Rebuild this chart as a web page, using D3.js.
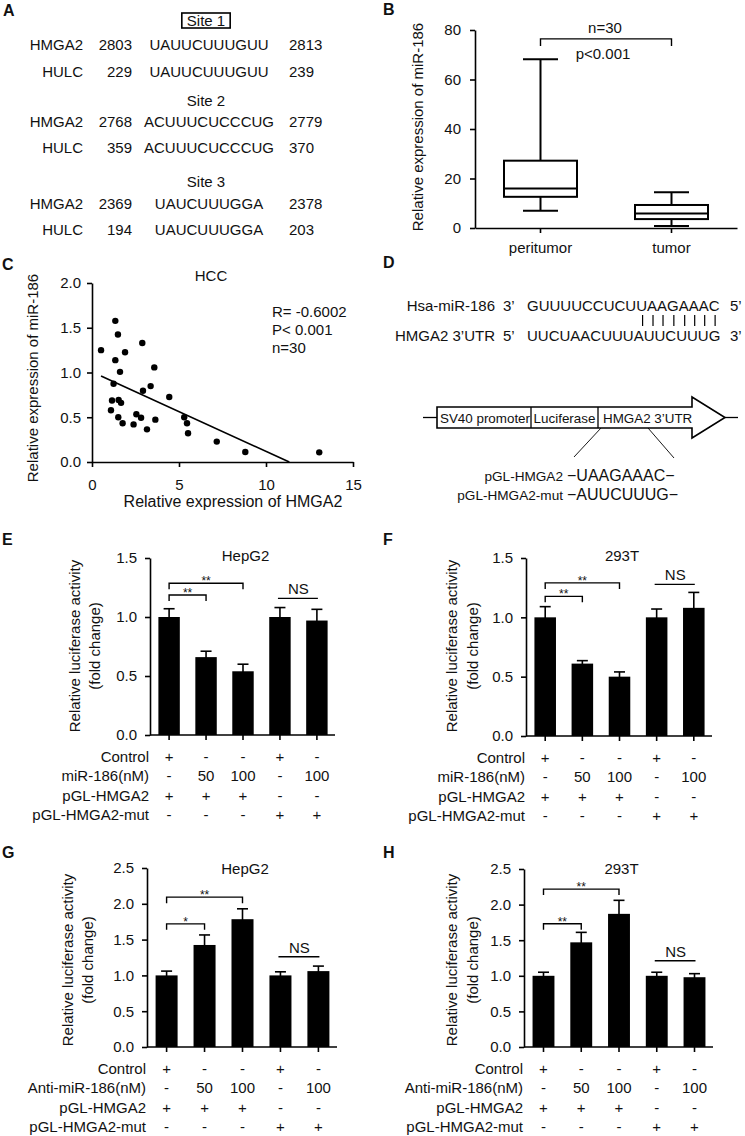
<!DOCTYPE html>
<html><head><meta charset="utf-8">
<script src="https://cdn.jsdelivr.net/npm/d3@7"></script>
<style>
body{margin:0;background:#fff;}
svg text{font-family:"Liberation Sans",Arial,Helvetica,sans-serif;fill:#111;}
</style></head><body>
<svg id="fig" width="745" height="1136" xmlns="http://www.w3.org/2000/svg"></svg>
<script>
// ================= DATA =================
// Panel A: sequence sites
const siteNames = ["Site 1", "Site 2", "Site 3"];
const siteGenes = ["HMGA2", "HULC"];
const siteStart = [[2803, 229], [2768, 359], [2369, 194]];
const siteSeq = [["UAUUCUUUGUU", "UAUUCUUUGUU"], ["ACUUUCUCCCUG", "ACUUUCUCCCUG"], ["UAUCUUUGGA", "UAUCUUUGGA"]];
const siteEnd = [[2813, 239], [2779, 370], [2378, 203]];

// Panel B: box plot
const boxCategories = ["peritumor", "tumor"];
const boxMin = [7.0, 0.8];
const boxQ1 = [12.6, 3.6];
const boxMedian = [16.0, 5.9];
const boxQ3 = [27.2, 9.3];
const boxMax = [68.2, 14.4];
const boxYTicks = [0, 20, 40, 60, 80];
const boxNote = ["n=30", "p<0.001"];

// Panel C: scatter
const hmga2Expr = [1.34, 1.49, 0.52, 2.89, 1.90, 1.34, 1.61, 3.58, 1.24, 2.93, 3.37, 4.44, 1.15, 1.53, 1.67, 1.09, 1.51, 1.76, 2.55, 2.82, 2.39, 3.64, 3.16, 5.30, 5.46, 5.52, 7.17, 8.81, 13.06];
const mir186Expr = [1.577, 1.424, 1.25, 1.33, 1.227, 1.138, 1.007, 1.057, 0.874, 0.796, 0.848, 0.727, 0.687, 0.694, 0.661, 0.578, 0.50, 0.433, 0.534, 0.494, 0.42, 0.473, 0.365, 0.50, 0.433, 0.321, 0.228, 0.112, 0.108];
const fitSlope = -0.0889, fitIntercept = 1.008, fitRange = [0.52, 11.34];
const scatterXTicks = [0, 5, 10, 15];
const scatterYTicks = [0, 0.5, 1.0, 1.5, 2.0];
const scatterStats = ["R= -0.6002", "P< 0.001", "n=30"];

// Panel D: duplex and construct
const duplexNames = ["Hsa-miR-186", "HMGA2 3\u2019UTR"];
const duplexEnds = [["3\u2019", "5\u2019"], ["5\u2019", "3\u2019"]];
const duplexSeqs = ["GUUUUCCUCUUAAGAAAC", "UUCUAACUUUAUUCUUUG"];
const seedLength = 8;
const constructParts = ["SV40 promoter", "Luciferase", "HMGA2 3\u2019UTR"];
const constructNames = ["pGL-HMGA2", "pGL-HMGA2-mut"];
const constructSeqs = ["UAAGAAAC", "AUUCUUUG"];

// Panels E-H: luciferase assays
const barTicks15 = [0, 0.5, 1.0, 1.5];
const barTicks25 = [0, 0.5, 1.0, 1.5, 2.0, 2.5];
const rowLabelsMiR = ["Control", "miR-186(nM)", "pGL-HMGA2", "pGL-HMGA2-mut"];
const rowLabelsAnti = ["Control", "Anti-miR-186(nM)", "pGL-HMGA2", "pGL-HMGA2-mut"];
const rowValues = [["+", "-", "-", "+", "-"], ["-", "50", "100", "-", "100"], ["+", "+", "+", "-", "-"], ["-", "-", "-", "+", "+"]];
const eMean = [1.00, 0.66, 0.54, 1.00, 0.97];
const eSem  = [0.07, 0.05, 0.06, 0.08, 0.095];
const fMean = [1.00, 0.61, 0.50, 1.00, 1.08];
const fSem  = [0.09, 0.025, 0.04, 0.07, 0.13];
const gMean = [1.00, 1.425, 1.785, 1.00, 1.06];
const gSem  = [0.06, 0.14, 0.145, 0.05, 0.07];
const hMean = [1.00, 1.47, 1.87, 1.00, 0.98];
const hSem  = [0.05, 0.14, 0.19, 0.05, 0.05];
// significance: [barA, barB, level, label]
const eSig = [[0, 2, 1.286, "**"], [0, 1, 1.186, "**"], [3, 4, 1.158, "NS"]];
const fSig = [[0, 2, 1.29, "**"], [0, 1, 1.177, "**"], [3, 4, 1.278, "NS"]];
const gSig = [[0, 2, 2.093, "**"], [0, 1, 1.72, "*"], [3, 4, 1.26, "NS"]];
const hSig = [[0, 2, 2.218, "**"], [0, 1, 1.73, "**"], [3, 4, 1.212, "NS"]];

// ================= DRAWING =================
const svg = d3.select("#fig");
const FONT = "Liberation Sans, Arial, Helvetica, sans-serif";

function txt(g, x, y, s, o = {}) {
  const t = g.append("text").attr("x", x).attr("y", y).text(s)
    .attr("font-size", o.size || 15)
    .attr("text-anchor", o.anchor || "start");
  if (o.weight) t.attr("font-weight", o.weight);
  return t;
}
function styleAxis(sel, size) {
  sel.attr("font-family", FONT).attr("font-size", size || 15);
  sel.selectAll("path,line").attr("stroke", "#000").attr("stroke-width", 1.6);
  sel.selectAll("text").attr("fill", "#111");
}
function vlabel(g, x, y, s, size) {
  g.append("text").attr("transform", `translate(${x},${y}) rotate(-90)`)
    .attr("text-anchor", "middle").attr("dy", "0.35em")
    .attr("font-size", size || 15).text(s);
}

// Panel letters
[["A", 3, 16], ["B", 383, 15], ["C", 2, 270], ["D", 383, 268], ["E", 2, 545], ["F", 383, 545], ["G", 2, 858], ["H", 383, 858]]
  .forEach(([l, x, y]) => txt(svg, x, y, l, { size: 16, weight: "bold" }));

// ---------- Panel A ----------
(function () {
  const g = svg.append("g");
  const rowBase = [[50, 77], [127, 153], [209, 235]];
  const siteBase = [26, 106, 187];
  siteNames.forEach((s, i) => {
    const t = txt(g, 206, siteBase[i], s, { anchor: "middle" });
    if (i === 0) {
      const bb = t.node().getBBox();
      g.append("rect").attr("x", bb.x - 5).attr("y", siteBase[i] - 13)
        .attr("width", bb.width + 10).attr("height", 15)
        .attr("fill", "none").attr("stroke", "#000").attr("stroke-width", 1.6);
    }
    siteGenes.forEach((gn, j) => {
      const y = rowBase[i][j];
      txt(g, 83, y, gn, { anchor: "end" });
      txt(g, 132, y, siteStart[i][j], { anchor: "end" });
      txt(g, 209, y, siteSeq[i][j], { anchor: "middle" });
      txt(g, 289, y, siteEnd[i][j]);
    });
  });
})();

// ---------- Panel B ----------
(function () {
  const g = svg.append("g");
  const x = d3.scaleBand().domain(boxCategories).range([475, 737]);
  const y = d3.scaleLinear().domain([0, 80]).range([228, 30]);
  g.append("g").attr("transform", "translate(475,0)")
    .call(d3.axisLeft(y).tickValues(boxYTicks).tickSize(5).tickPadding(9).tickSizeOuter(0))
    .call(s => styleAxis(s));
  g.append("g").attr("transform", "translate(0,228)")
    .call(d3.axisBottom(x).tickSize(5).tickPadding(9).tickSizeOuter(0))
    .call(s => styleAxis(s));
  const bw = 73, cw = 35;
  boxCategories.forEach((c, i) => {
    const cx = x(c) + x.bandwidth() / 2;
    const ln = (x1, y1, x2, y2) => g.append("line").attr("x1", x1).attr("y1", y1).attr("x2", x2).attr("y2", y2)
      .attr("stroke", "#000").attr("stroke-width", 2);
    ln(cx, y(boxQ3[i]), cx, y(boxMax[i]));
    ln(cx, y(boxQ1[i]), cx, y(boxMin[i]));
    ln(cx - cw / 2, y(boxMax[i]), cx + cw / 2, y(boxMax[i]));
    ln(cx - cw / 2, y(boxMin[i]), cx + cw / 2, y(boxMin[i]));
    g.append("rect").attr("x", cx - bw / 2).attr("y", y(boxQ3[i]))
      .attr("width", bw).attr("height", y(boxQ1[i]) - y(boxQ3[i]))
      .attr("fill", "#fff").attr("stroke", "#000").attr("stroke-width", 2);
    ln(cx - bw / 2, y(boxMedian[i]), cx + bw / 2, y(boxMedian[i]));
  });
  const x1 = x(boxCategories[0]) + x.bandwidth() / 2, x2 = x(boxCategories[1]) + x.bandwidth() / 2;
  const by = y(76.4);
  g.append("path").attr("d", `M${x1},${by + 7}V${by}H${x2}V${by + 7}`)
    .attr("fill", "none").attr("stroke", "#000").attr("stroke-width", 1.4);
  txt(g, (x1 + x2) / 2 - 1, by - 6, boxNote[0], { anchor: "middle" });
  txt(g, (x1 + x2) / 2 - 3, by + 20, boxNote[1], { anchor: "middle" });
  vlabel(g, 418, 127, "Relative expression of miR-186");
})();

// ---------- Panel C ----------
(function () {
  const g = svg.append("g");
  const x = d3.scaleLinear().domain([0, 15]).range([92, 353]);
  const y = d3.scaleLinear().domain([0, 2]).range([462, 283]);
  g.append("g").attr("transform", "translate(92,0)")
    .call(d3.axisLeft(y).tickValues(scatterYTicks).tickFormat(d3.format(".1f")).tickSize(5).tickPadding(6).tickSizeOuter(0))
    .call(s => styleAxis(s));
  g.append("g").attr("transform", "translate(0,462)")
    .call(d3.axisBottom(x).tickValues(scatterXTicks).tickFormat(d3.format("d")).tickSize(5).tickPadding(12).tickSizeOuter(0))
    .call(s => styleAxis(s));
  const line = d3.line().x(d => x(d)).y(d => y(fitIntercept + fitSlope * d));
  g.append("path").attr("d", line(fitRange)).attr("stroke", "#000").attr("stroke-width", 1.6).attr("fill", "none");
  g.selectAll("circle.pt").data(hmga2Expr).join("circle").attr("class", "pt")
    .attr("cx", d => x(d)).attr("cy", (d, i) => y(mir186Expr[i])).attr("r", 3.2).attr("fill", "#000");
  scatterStats.forEach((s, i) => txt(g, 272, 317 + i * 18, s));
  txt(g, 211, 281, "HCC", { anchor: "middle" });
  txt(g, 233, 507, "Relative expression of HMGA2", { anchor: "middle", size: 16 });
  vlabel(g, 33, 378, "Relative expression of miR-186");
})();

// ---------- Panel D ----------
(function () {
  const g = svg.append("g");
  const base = [311, 341];
  let seqNode = null;
  duplexNames.forEach((n, i) => {
    txt(g, 495, base[i], n, { anchor: "end" });
    txt(g, 503, base[i], duplexEnds[i][0]);
    const s = txt(g, 527, base[i], duplexSeqs[i]);
    if (i === 0) seqNode = s.node();
    txt(g, i === 0 ? 730 : 730, base[i], duplexEnds[i][1]);
  });
  const L = duplexSeqs[0].length;
  for (let k = L - seedLength; k < L; k++) {
    const px = 527 + seqNode.getSubStringLength(0, k) + seqNode.getSubStringLength(k, 1) / 2 + 1;
    g.append("line").attr("x1", px).attr("x2", px).attr("y1", 315).attr("y2", 326)
      .attr("stroke", "#000").attr("stroke-width", 1.2);
  }
  // construct arrow
  const bx = [437, 531, 598, 692], top = 407, bot = 428, mid = 417.5;
  g.append("line").attr("x1", 423).attr("x2", 437).attr("y1", mid).attr("y2", mid).attr("stroke", "#000").attr("stroke-width", 1.3);
  g.append("line").attr("x1", 725).attr("x2", 738).attr("y1", mid).attr("y2", mid).attr("stroke", "#000").attr("stroke-width", 1.3);
  g.append("path").attr("d", `M${bx[0]},${top}H${bx[3]}V${top - 10}L725,${mid}L${bx[3]},${bot + 10}V${bot}H${bx[0]}Z`)
    .attr("fill", "#fff").attr("stroke", "#000").attr("stroke-width", 1.6);
  [bx[1], bx[2]].forEach(v => g.append("line").attr("x1", v).attr("x2", v).attr("y1", top).attr("y2", bot).attr("stroke", "#000").attr("stroke-width", 1.3));
  txt(g, (bx[0] + bx[1]) / 2 + 1, 422.5, constructParts[0], { anchor: "middle", size: 13.4 });
  txt(g, (bx[1] + bx[2]) / 2, 422.5, constructParts[1], { anchor: "middle", size: 13.4 });
  txt(g, 603, 422.5, constructParts[2], { size: 13.4 });
  g.append("line").attr("x1", 601).attr("y1", bot).attr("x2", 574).attr("y2", 457).attr("stroke", "#000").attr("stroke-width", 0.9);
  g.append("line").attr("x1", 648).attr("y1", bot).attr("x2", 674).attr("y2", 458).attr("stroke", "#000").attr("stroke-width", 0.9);
  const cb = [481, 500];
  constructNames.forEach((n, i) => {
    txt(g, 563, cb[i], n, { anchor: "end", size: 13.6 });
    txt(g, 567, cb[i], "\u2212" + constructSeqs[i] + "\u2212", { size: 16 });
  });
})();

// ---------- Panels E-H ----------
function barPanel(p) {
  const g = svg.append("g");
  const n = p.means.length;
  const x = d3.scaleBand().domain(d3.range(n)).range([p.axisX + 1, p.axisEnd]).paddingInner(0.42).paddingOuter(0.2);
  const cxf = i => x(i) + x.bandwidth() / 2;
  const y = d3.scaleLinear().domain([0, p.yMax]).range([p.y0, p.yTop]);
  g.selectAll("rect.bar").data(p.means).join("rect").attr("class", "bar")
    .attr("x", (d, i) => x(i)).attr("y", d => y(d)).attr("width", x.bandwidth())
    .attr("height", d => p.y0 - y(d)).attr("fill", "#000");
  p.means.forEach((m, i) => {
    const c = cxf(i), t = y(m + p.sems[i]);
    g.append("line").attr("x1", c).attr("x2", c).attr("y1", y(m) + 1).attr("y2", t).attr("stroke", "#000").attr("stroke-width", 1.6);
    g.append("line").attr("x1", c - 5.5).attr("x2", c + 5.5).attr("y1", t).attr("y2", t).attr("stroke", "#000").attr("stroke-width", 1.6);
  });
  g.append("g").attr("transform", `translate(${p.axisX},0)`)
    .call(d3.axisLeft(y).tickValues(p.yTicks).tickFormat(d3.format(".1f")).tickSize(5).tickPadding(8).tickSizeOuter(0))
    .call(s => styleAxis(s));
  const xa = g.append("g").attr("transform", `translate(0,${p.y0})`)
    .call(d3.axisBottom(x).tickSize(5).tickFormat("").tickSizeOuter(0))
    .call(s => styleAxis(s));
  xa.select(".domain").attr("d", `M${p.axisX},0H${p.axisEnd}`);
  // significance
  p.sig.forEach(([a, b, lev, lab]) => {
    const x1 = cxf(a), x2 = cxf(b), yy = y(lev);
    if (lab === "NS") {
      g.append("line").attr("x1", x1 - 2).attr("x2", x2 + 1).attr("y1", yy).attr("y2", yy).attr("stroke", "#000").attr("stroke-width", 1.4);
      txt(g, (x1 + x2) / 2, yy - 4, lab, { anchor: "middle", size: 15 });
    } else {
      g.append("path").attr("d", `M${x1},${yy + 6}V${yy}H${x2}V${yy + 6}`)
        .attr("fill", "none").attr("stroke", "#000").attr("stroke-width", 1.4);
      txt(g, (x1 + x2) / 2, yy + 2, lab, { anchor: "middle", size: 12 });
    }
  });
  txt(g, (p.axisX + p.axisEnd) / 2 + 3, p.titleY, p.title, { anchor: "middle" });
  vlabel(g, p.ylx[0], p.ylcy, "Relative luciferase activity");
  vlabel(g, p.ylx[1], p.ylcy, "(fold change)");
  p.rowLabels.forEach((lab, r) => {
    const yy = p.y0 + 27 + r * 19.3;
    txt(g, p.axisX - 1, yy, lab, { anchor: "end" });
    rowValues[r].forEach((v, i) => txt(g, cxf(i), yy, v, { anchor: "middle" }));
  });
}

barPanel({ means: eMean, sems: eSem, sig: eSig, axisX: 150, axisEnd: 335, y0: 735, yTop: 558, yMax: 1.5, yTicks: barTicks15,
  title: "HepG2", titleY: 561, ylx: [75, 95], ylcy: 646, rowLabels: rowLabelsMiR });
barPanel({ means: fMean, sems: fSem, sig: fSig, axisX: 526, axisEnd: 712, y0: 736, yTop: 558, yMax: 1.5, yTicks: barTicks15,
  title: "293T", titleY: 561, ylx: [452, 473], ylcy: 646, rowLabels: rowLabelsMiR });
barPanel({ means: gMean, sems: gSem, sig: gSig, axisX: 147, axisEnd: 337, y0: 1047, yTop: 868, yMax: 2.5, yTicks: barTicks25,
  title: "HepG2", titleY: 874, ylx: [68, 88], ylcy: 960, rowLabels: rowLabelsAnti });
barPanel({ means: hMean, sems: hSem, sig: hSig, axisX: 524, axisEnd: 713, y0: 1047, yTop: 869, yMax: 2.5, yTicks: barTicks25,
  title: "293T", titleY: 874, ylx: [452, 473], ylcy: 960, rowLabels: rowLabelsAnti });
</script>
</body></html>
